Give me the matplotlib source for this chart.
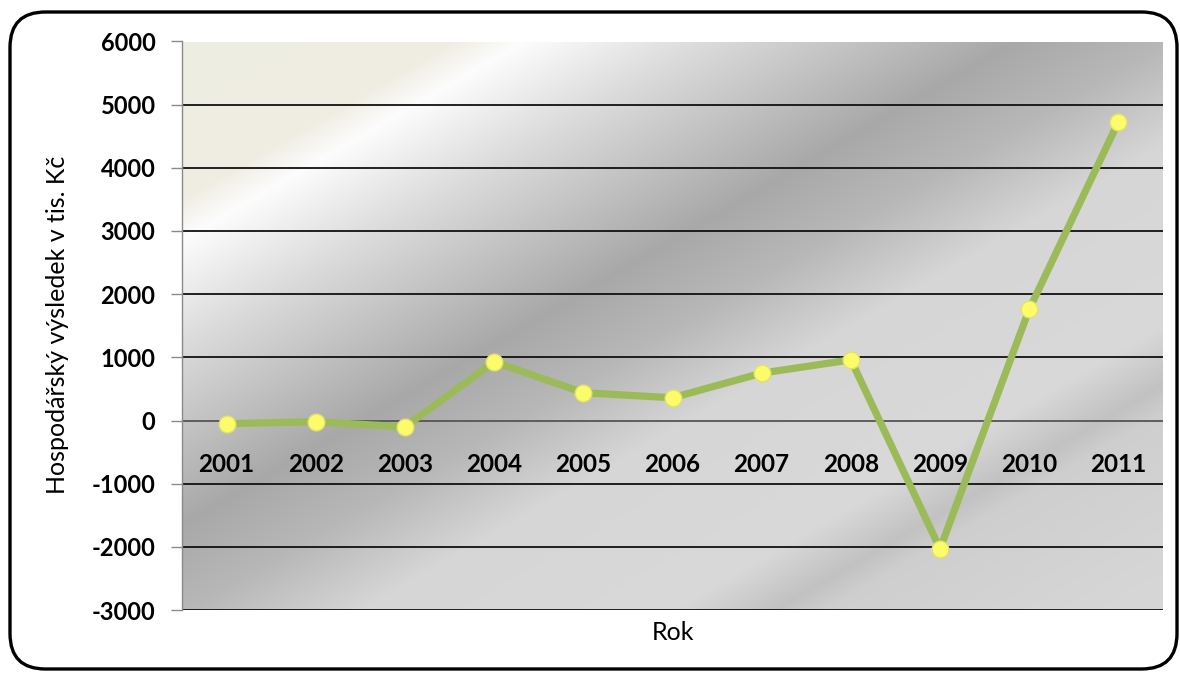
import numpy as np
import matplotlib
matplotlib.use("Agg")
import matplotlib.pyplot as plt
from matplotlib.patches import FancyBboxPatch
from matplotlib import transforms

# ---- data ----
years = ["2001", "2002", "2003", "2004", "2005", "2006", "2007", "2008", "2009", "2010", "2011"]
values = [-50, -20, -100, 930, 440, 360, 750, 960, -2030, 1760, 4730]
y_ticks = [-3000, -2000, -1000, 0, 1000, 2000, 3000, 4000, 5000, 6000]
y_label = "Hospodářský výsledek v tis. Kč"
x_label = "Rok"

W, H = 1180, 673
fig = plt.figure(figsize=(W / 100, H / 100), dpi=100)
fig.patch.set_facecolor("white")

# plot area in pixel coordinates
L, R, T, B = 182, 1163, 41.5, 610
ax = fig.add_axes([L / W, (H - B) / H, (R - L) / W, (B - T) / H])

# ---- silver diagonal gradient background ----
gx = np.arange(int(L), int(R) + 1)
gy = np.arange(int(T), int(B) + 1)
X, Y = np.meshgrid(gx, gy)
S = 0.58 * X + Y
stops = [0, 305, 345, 450, 630, 720, 820, 1000, 1060, 1090, 1250]
rs = [0.93, 0.94, 0.99, 0.86, 0.66, 0.72, 0.84, 0.85, 0.76, 0.81, 0.84]
gs = [0.93, 0.93, 0.99, 0.86, 0.66, 0.72, 0.84, 0.85, 0.76, 0.81, 0.84]
bs = [0.89, 0.89, 0.99, 0.86, 0.66, 0.72, 0.84, 0.85, 0.76, 0.81, 0.84]
img = np.dstack([np.interp(S, stops, rs), np.interp(S, stops, gs), np.interp(S, stops, bs)])
ax.imshow(img, extent=[0, len(years), y_ticks[0], y_ticks[-1]], aspect="auto",
          origin="upper", zorder=0, interpolation="bilinear")

ax.set_xlim(0, len(years))
ax.set_ylim(y_ticks[0], y_ticks[-1])

# gridlines
for yv in y_ticks:
    ax.axhline(yv, color="#555555" if yv == 0 else "#111111", lw=1.3, zorder=1)

for sp in ["top", "right", "bottom"]:
    ax.spines[sp].set_visible(False)
ax.spines["left"].set_color("#8a8a8a")
ax.spines["left"].set_linewidth(1.0)

ax.set_xticks([])
ax.set_yticks(y_ticks)
ax.set_yticklabels([str(v) for v in y_ticks], fontfamily="Lato", fontweight="bold", fontsize=17)
ax.tick_params(axis="y", length=8, width=1, color="#8a8a8a", pad=11)

# series
xs = np.arange(len(years)) + 0.5
ax.plot(xs, values, color="#9BBB59", lw=5.2, zorder=3, solid_joinstyle="round",
        solid_capstyle="round")
ax.plot(xs, values, ls="none", marker="o", ms=12, mfc="#FCFC6A", mec="#E2E26A",
        mew=1.0, zorder=4)

# category labels next to the zero line
off = transforms.offset_copy(ax.transData, fig=fig, x=0, y=-44, units="dots")
for xv, lab in zip(xs, years):
    ax.text(xv, 0, lab, transform=off, ha="center", va="center",
            fontfamily="Lato", fontweight="bold", fontsize=17.5, color="black", zorder=5)

fig.text(58 / W, 1 - 325 / H, y_label, rotation=90, ha="center", va="center",
         fontfamily="Lato", fontsize=18, color="black")
fig.text(673 / W, 1 - 633 / H, x_label, ha="center", va="center",
         fontfamily="Lato", fontsize=18, color="black")

# rounded outer border
border = FancyBboxPatch((10 / W, 1 - 669 / H), (1177 - 10) / W, (669 - 12) / H,
                        boxstyle="round,pad=0,rounding_size=0.03",
                        transform=fig.transFigure, fill=False, ec="black", lw=2.4,
                        mutation_aspect=W / H)
fig.patches.append(border)

fig.savefig("out.png", dpi=100)
